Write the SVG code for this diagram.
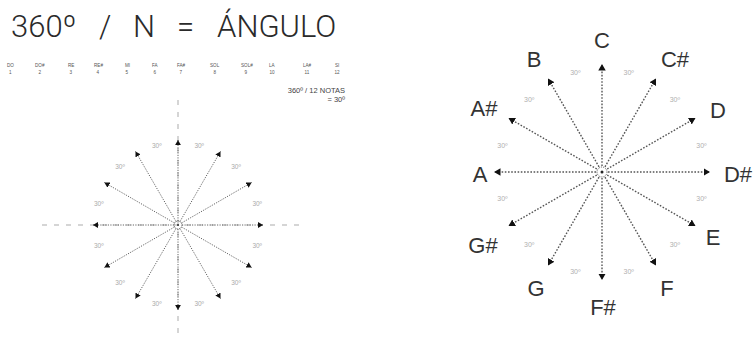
<svg xmlns="http://www.w3.org/2000/svg" width="756" height="344" viewBox="0 0 756 344">
  <style>
    .title { font-family: Roboto, "Liberation Sans", sans-serif; font-weight: 300; font-size: 31px; fill: #2a2a2a; }
    .note { font-family: "Liberation Sans", Arial, sans-serif; font-size: 4.6px; fill: #555; }
    .rule { font-family: "Liberation Sans", Arial, sans-serif; font-size: 7.5px; fill: #444; text-anchor: end; }
    .deg-s { font-family: "Liberation Sans", Arial, sans-serif; font-size: 6.5px; fill: #aaa; text-anchor: middle; }
    .deg-l { font-family: "Liberation Sans", Arial, sans-serif; font-size: 7px; fill: #b0b0b0; text-anchor: middle; }
    .lbl { font-family: "Liberation Sans", Arial, sans-serif; font-size: 22px; fill: #333; text-anchor: middle; }
    .axis { stroke: #c8c8c8; stroke-width: 1.5; stroke-dasharray: 5 7; fill: none; }
    .ray-s { stroke: #666; stroke-width: 1; stroke-dasharray: 1.2 1.3; fill: none; marker-end: url(#headS); }
    .ray-l { stroke: #555; stroke-width: 1.4; stroke-dasharray: 1.6 1.6; fill: none; marker-end: url(#headL); }
    .hub { fill: none; stroke: #555; stroke-width: 1; stroke-dasharray: 1 1; }
  </style>
  <defs>
    <marker id="headS" markerUnits="userSpaceOnUse" markerWidth="6" markerHeight="6" refX="5.2" refY="3" orient="auto">
      <path d="M0,0 L5.2,3 L0,6 z" fill="#111"/>
    </marker>
    <marker id="headL" markerUnits="userSpaceOnUse" markerWidth="8" markerHeight="8" refX="6.5" refY="3.75" orient="auto">
      <path d="M0,0 L6.5,3.75 L0,7.5 z" fill="#111"/>
    </marker>
  </defs>

  <!-- heading -->
  <g id="heading">
    <text class="title" x="11" y="37">360º</text>
    <text class="title" x="99" y="37">/</text>
    <text class="title" x="133" y="37">N</text>
    <text class="title" x="177" y="37">=</text>
    <text class="title" x="217" y="37">ÁNGULO</text>
  </g>

  <!-- note index row -->
  <g id="note-row">
    <text class="note" x="7" y="67">DO</text><text class="note" x="9" y="74">1</text>
    <text class="note" x="35" y="67">DO#</text><text class="note" x="38.5" y="74">2</text>
    <text class="note" x="68" y="67">RE</text><text class="note" x="69.5" y="74">3</text>
    <text class="note" x="94" y="67">RE#</text><text class="note" x="96.5" y="74">4</text>
    <text class="note" x="125" y="67">MI</text><text class="note" x="125.5" y="74">5</text>
    <text class="note" x="152" y="67">FA</text><text class="note" x="153.5" y="74">6</text>
    <text class="note" x="177" y="67">FA#</text><text class="note" x="179.5" y="74">7</text>
    <text class="note" x="210" y="67">SOL</text><text class="note" x="213.5" y="74">8</text>
    <text class="note" x="241" y="67">SOL#</text><text class="note" x="244.5" y="74">9</text>
    <text class="note" x="269" y="67">LA</text><text class="note" x="269.5" y="74">10</text>
    <text class="note" x="303" y="67">LA#</text><text class="note" x="304.5" y="74">11</text>
    <text class="note" x="335" y="67">SI</text><text class="note" x="334.5" y="74">12</text>
  </g>

  <g id="rule-note">
    <text class="rule" x="345" y="93">360º / 12 NOTAS</text>
    <text class="rule" x="345" y="102">= 30º</text>
  </g>

  <!-- small wheel: reference axes -->
  <g id="small-axes">
    <line class="axis" x1="42" y1="225" x2="303" y2="225"/>
    <line class="axis" x1="178" y1="100" x2="178" y2="333"/>
  </g>

  <!-- small wheel: rays -->
  <g id="small-rays">
    <line class="ray-s" x1="178" y1="221" x2="178" y2="140"/>
    <line class="ray-s" x1="180" y1="221.5" x2="220.5" y2="151.4"/>
    <line class="ray-s" x1="181.5" y1="223" x2="251.6" y2="182.5"/>
    <line class="ray-s" x1="182" y1="225" x2="263" y2="225"/>
    <line class="ray-s" x1="181.5" y1="227" x2="251.6" y2="267.5"/>
    <line class="ray-s" x1="180" y1="228.5" x2="220.5" y2="298.6"/>
    <line class="ray-s" x1="178" y1="229" x2="178" y2="310"/>
    <line class="ray-s" x1="176" y1="228.5" x2="135.5" y2="298.6"/>
    <line class="ray-s" x1="174.5" y1="227" x2="104.4" y2="267.5"/>
    <line class="ray-s" x1="174" y1="225" x2="93" y2="225"/>
    <line class="ray-s" x1="174.5" y1="223" x2="104.4" y2="182.5"/>
    <line class="ray-s" x1="176" y1="221.5" x2="135.5" y2="151.4"/>
  </g>

  <g id="small-hub">
    <circle class="hub" cx="178" cy="225" r="4"/>
    <circle cx="178" cy="225" r="1.1" fill="#333"/>
  </g>

  <g id="small-angles">
    <text class="deg-s" x="199.2" y="148">30º</text>
    <text class="deg-s" x="156.8" y="148">30º</text>
    <text class="deg-s" x="236" y="169.2">30º</text>
    <text class="deg-s" x="120" y="169.2">30º</text>
    <text class="deg-s" x="257.2" y="206">30º</text>
    <text class="deg-s" x="98.8" y="206">30º</text>
    <text class="deg-s" x="257.2" y="248.4">30º</text>
    <text class="deg-s" x="98.8" y="248.4">30º</text>
    <text class="deg-s" x="236" y="285.2">30º</text>
    <text class="deg-s" x="120" y="285.2">30º</text>
    <text class="deg-s" x="199.2" y="306.4">30º</text>
    <text class="deg-s" x="156.8" y="306.4">30º</text>
  </g>

  <!-- note wheel: connectors -->
  <g id="connectors">
    <line class="ray-l" x1="602" y1="166" x2="602" y2="64"/>
    <line class="ray-l" x1="605" y1="166.8" x2="656" y2="78.5"/>
    <line class="ray-l" x1="607.2" y1="169" x2="695.5" y2="118"/>
    <line class="ray-l" x1="608" y1="172" x2="710" y2="172"/>
    <line class="ray-l" x1="607.2" y1="175" x2="695.5" y2="226"/>
    <line class="ray-l" x1="605" y1="177.2" x2="656" y2="265.5"/>
    <line class="ray-l" x1="602" y1="178" x2="602" y2="280"/>
    <line class="ray-l" x1="599" y1="177.2" x2="548" y2="265.5"/>
    <line class="ray-l" x1="596.8" y1="175" x2="508.5" y2="226"/>
    <line class="ray-l" x1="596" y1="172" x2="494" y2="172"/>
    <line class="ray-l" x1="596.8" y1="169" x2="508.5" y2="118"/>
    <line class="ray-l" x1="599" y1="166.8" x2="548" y2="78.5"/>
  </g>

  <g id="hub">
    <circle class="hub" cx="602" cy="172" r="5"/>
    <circle cx="602" cy="172" r="1.5" fill="#222"/>
  </g>

  <g id="wheel-angles">
    <text class="deg-l" x="628.7" y="75">30º</text>
    <text class="deg-l" x="575.3" y="75">30º</text>
    <text class="deg-l" x="674.8" y="101.7">30º</text>
    <text class="deg-l" x="529.2" y="101.7">30º</text>
    <text class="deg-l" x="701.5" y="147.8">30º</text>
    <text class="deg-l" x="502.5" y="147.8">30º</text>
    <text class="deg-l" x="701.5" y="201.2">30º</text>
    <text class="deg-l" x="502.5" y="201.2">30º</text>
    <text class="deg-l" x="674.8" y="247.3">30º</text>
    <text class="deg-l" x="529.2" y="247.3">30º</text>
    <text class="deg-l" x="628.7" y="274">30º</text>
    <text class="deg-l" x="575.3" y="274">30º</text>
  </g>

  <!-- note wheel: nodes -->
  <g id="node-C"><text class="lbl" x="602" y="48">C</text></g>
  <g id="node-Cs"><text class="lbl" x="675" y="67">C#</text></g>
  <g id="node-D"><text class="lbl" x="718" y="118">D</text></g>
  <g id="node-Ds"><text class="lbl" x="738" y="182">D#</text></g>
  <g id="node-E"><text class="lbl" x="713" y="245">E</text></g>
  <g id="node-F"><text class="lbl" x="667" y="296">F</text></g>
  <g id="node-Fs"><text class="lbl" x="603" y="315">F#</text></g>
  <g id="node-G"><text class="lbl" x="536" y="296">G</text></g>
  <g id="node-Gs"><text class="lbl" x="483" y="253">G#</text></g>
  <g id="node-A"><text class="lbl" x="480" y="182">A</text></g>
  <g id="node-As"><text class="lbl" x="484" y="116">A#</text></g>
  <g id="node-B"><text class="lbl" x="534" y="67">B</text></g>
</svg>
